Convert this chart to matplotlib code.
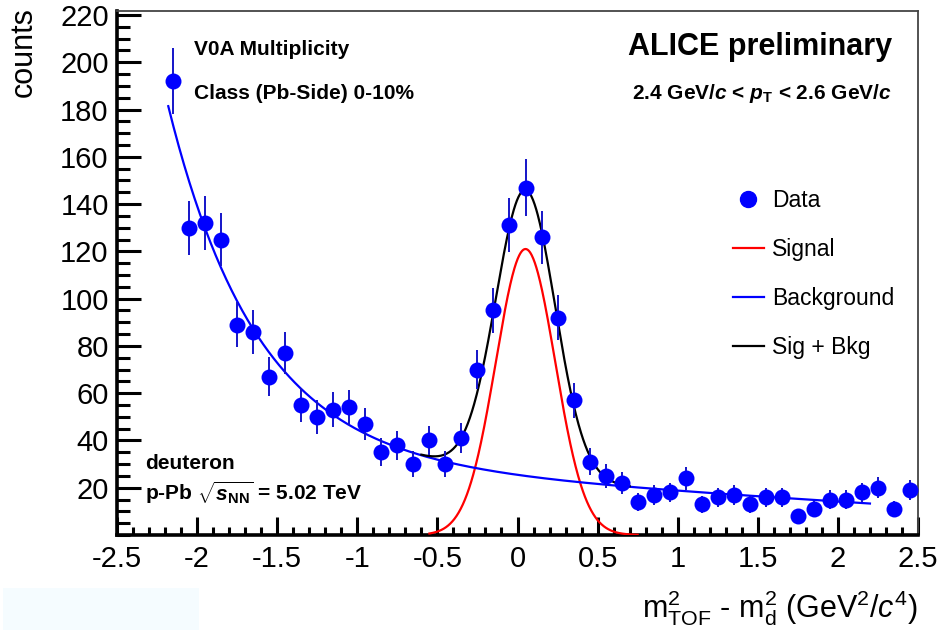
import numpy as np
import matplotlib
matplotlib.use("Agg")
import matplotlib.pyplot as plt
from matplotlib.ticker import MultipleLocator, FixedLocator
from matplotlib.lines import Line2D
from matplotlib.patches import Rectangle

plt.rcParams['font.family'] = ['Liberation Sans', 'DejaVu Sans']
plt.rcParams['axes.unicode_minus'] = False
plt.rcParams['mathtext.fontset'] = 'custom'
plt.rcParams['mathtext.rm'] = 'Liberation Sans'
plt.rcParams['mathtext.it'] = 'Liberation Sans:italic'
plt.rcParams['mathtext.bf'] = 'Liberation Sans:bold'
plt.rcParams['mathtext.bfit'] = 'Liberation Sans:italic:bold'

# ---- data (bin centres, counts, Poisson errors) ----
bin_low = -2.2
bin_width = 0.1
counts = [192, 130, 132, 125, 89, 86, 67, 77, 55, 50, 53, 54, 47, 35, 38, 30,
          40, 30, 41, 70, 95, 131, 147, 126, 92, 57, 31, 25, 22, 14, 17, 18,
          24, 13, 16, 17, 13, 16, 16, 8, 11, 15, 15, 18, 20, 11, 19]
errors = [13.9, 11.4, 11.5, 11.2, 9.4, 9.3, 8.2, 8.8, 7.4, 7.1, 7.3, 7.3, 6.9,
          5.9, 6.2, 5.5, 6.3, 5.5, 6.4, 8.4, 9.7, 11.4, 12.1, 11.2, 9.6, 7.5,
          5.6, 5.0, 4.7, 3.7, 4.1, 4.2, 4.9, 3.6, 4.0, 4.1, 3.6, 4.0, 4.0, 2.8,
          3.3, 3.9, 3.9, 4.2, 4.5, 3.3, 4.4]
centers = bin_low + bin_width * (np.arange(len(counts)) + 0.5)

# fit parameters (Gaussian signal, exponential + linear background)
sig_amp, sig_mean, sig_sigma = 121.0, 0.05, 0.185
bkg_p0, bkg_p1, bkg_amp, bkg_slope = 22.5, -4.2, 2.96, 1.8
bkg_range = (-2.18, 2.2)
sig_range = (-0.55, 0.75)
tot_range = (-0.6, 0.7)

x_ticks = [-2.5, -2, -1.5, -1, -0.5, 0, 0.5, 1, 1.5, 2, 2.5]
x_ticklabels = ["-2.5", "-2", "-1.5", "-1", "-0.5", "0", "0.5", "1", "1.5", "2", "2.5"]
y_ticks = [20, 40, 60, 80, 100, 120, 140, 160, 180, 200, 220]


def signal(x):
    return sig_amp * np.exp(-0.5 * ((x - sig_mean) / sig_sigma) ** 2)


def background(x):
    return bkg_p0 + bkg_p1 * x + bkg_amp * np.exp(-bkg_slope * x)


W, H = 943, 630
AX_L, AX_R, AX_T, AX_B = 117, 918, 11, 535
fig = plt.figure(figsize=(W / 100, H / 100), dpi=100)
fig.patches.append(Rectangle((3 / W, 0), 196 / W, 42 / H, transform=fig.transFigure,
                             facecolor='#f5fcff', edgecolor='none', zorder=0))
ax = fig.add_axes([AX_L / W, 1 - AX_B / H, (AX_R - AX_L) / W, (AX_B - AX_T) / H])
ax.set_xlim(-2.5, 2.5)
ax.set_ylim(0, 221.7)

xb = np.linspace(*bkg_range, 400)
xs = np.linspace(*sig_range, 400)
xt = np.linspace(*tot_range, 400)
ax.plot(xs, signal(xs), color='#ff0000', lw=1.6, zorder=3)
ax.plot(xb, background(xb), color='#0000ff', lw=1.6, zorder=3)
ax.plot(xt, signal(xt) + background(xt), color='black', lw=1.6, zorder=4)
ax.errorbar(centers, counts, yerr=errors, fmt='o', color='#0000ff',
            ecolor='#1414c8', elinewidth=1.4, markersize=11.5, capsize=0,
            markeredgewidth=0, zorder=5)

# axes style (ROOT like)
for s in ['left', 'bottom']:
    ax.spines[s].set_linewidth(2.6)
for s in ['top', 'right']:
    ax.spines[s].set_linewidth(1.3)
    ax.spines[s].set_color('#444444')
ax.xaxis.set_major_locator(FixedLocator(x_ticks))
ax.set_xticklabels(x_ticklabels)
ax.xaxis.set_minor_locator(MultipleLocator(0.1))
ax.yaxis.set_major_locator(FixedLocator(y_ticks))
ax.yaxis.set_minor_locator(MultipleLocator(5))
ax.tick_params(axis='both', which='both', direction='in', top=False, right=False,
               width=2.2, labelsize=21)
ax.tick_params(axis='y', which='major', length=17, pad=6)
ax.tick_params(axis='y', which='minor', length=9)
ax.tick_params(axis='x', which='major', length=13, pad=7)
ax.tick_params(axis='x', which='minor', length=6)

# axis titles
fig.text(24 / W, 1 - 7 / H, 'counts', rotation=90, ha='center', va='top', fontsize=22)
fig.text(918 / W, 1 - 618 / H,
         r'm$^{2}_{\mathrm{TOF}}$ - m$^{2}_{\mathrm{d}}$ (GeV$^{2}$/$c^{4}$)',
         ha='right', va='baseline', fontsize=22)


def fx(px):
    return (px - AX_L) / (AX_R - AX_L)


def fy(py):
    return (AX_B - py) / (AX_B - AX_T)


tr = ax.transAxes
ax.text(fx(194), fy(55), 'V0A Multiplicity', transform=tr, fontsize=15,
        fontweight='bold', va='baseline', ha='left')
ax.text(fx(194), fy(99), 'Class (Pb-Side) 0-10%', transform=tr, fontsize=15,
        fontweight='bold', va='baseline', ha='left')
ax.text(fx(892), fy(55), 'ALICE preliminary', transform=tr, fontsize=22,
        fontweight='bold', va='baseline', ha='right')
ax.text(fx(892), fy(99), r'2.4 GeV/$\mathbfit{c}$ < $\mathbfit{p}_{\mathbf{T}}$ < 2.6 GeV/$\mathbfit{c}$',
        transform=tr, fontsize=15, fontweight='bold', va='baseline', ha='right')
ax.text(fx(145), fy(469), 'deuteron', transform=tr, fontsize=15,
        fontweight='bold', va='baseline', ha='left')
ax.text(fx(145), fy(500), r'p-Pb $\sqrt{\mathbfit{s}_{\mathbf{NN}}}$ = 5.02 TeV', transform=tr,
        fontsize=15, fontweight='bold', va='baseline', ha='left')

# legend
handles = [Line2D([], [], marker='o', color='#0000ff', ls='none', markersize=11.5),
           Line2D([], [], color='#ff0000', lw=1.6),
           Line2D([], [], color='#0000ff', lw=1.6),
           Line2D([], [], color='black', lw=1.6)]
labels = ['Data', 'Signal', 'Background', 'Sig + Bkg']
ax.legend(handles, labels, loc='upper left', bbox_to_anchor=(fx(733), fy(189)),
          frameon=False, fontsize=16.5, labelspacing=1.13, handlelength=1.35,
          handletextpad=0.35, borderaxespad=0, borderpad=0)

fig.savefig('out.png', dpi=100)
